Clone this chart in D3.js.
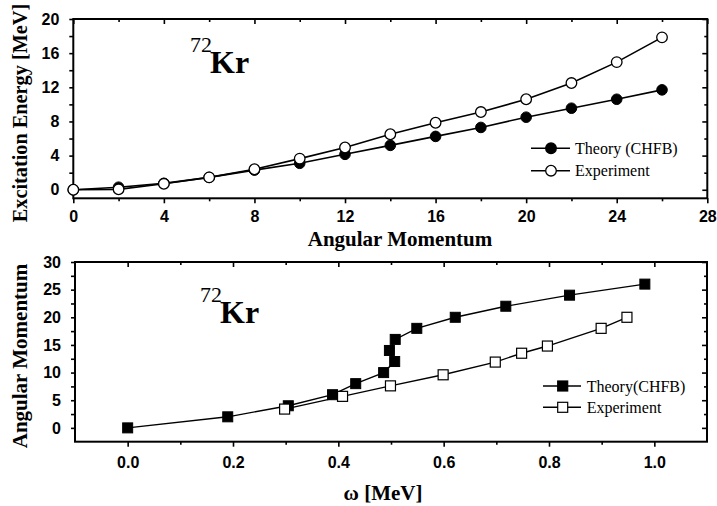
<!DOCTYPE html>
<html><head><meta charset="utf-8">
<script src="https://cdn.jsdelivr.net/npm/d3@7"></script>
<style>body{margin:0;background:#fff}svg{display:block}</style>
</head><body><svg id="c" width="717" height="506"></svg>
<script>
// ---- data: top panel (excitation energy vs angular momentum)
const spinJ     = [0, 2, 4, 6, 8, 10, 12, 14, 16, 18, 20, 22, 24, 26];
const theoryE   = [0, 0.3, 0.75, 1.45, 2.3, 3.1, 4.15, 5.2, 6.25, 7.3, 8.5, 9.55, 10.6, 11.7];
const exptE     = [0, 0.05, 0.7, 1.45, 2.4, 3.65, 4.95, 6.5, 7.85, 9.1, 10.6, 12.5, 14.95, 17.85];
// ---- data: bottom panel (angular momentum vs rotational frequency)
const theoryOmega = [0, 0.19, 0.305, 0.389, 0.433, 0.486, 0.507, 0.497, 0.508, 0.549, 0.622, 0.718, 0.839, 0.982];
const theoryI     = [0, 2, 4, 6, 8, 10, 12, 14, 16, 18, 20, 22, 24, 26];
const exptOmega   = [0.298, 0.408, 0.499, 0.599, 0.698, 0.748, 0.797, 0.899, 0.948];
const exptI       = [3.4, 5.7, 7.6, 9.6, 11.9, 13.5, 14.8, 18.0, 20.0];
// ---- ticks
const topXMajor = [0, 4, 8, 12, 16, 20, 24, 28];
const topXMinor = [2, 6, 10, 14, 18, 22, 26];
const topYMajor = [0, 4, 8, 12, 16, 20];
const topYMinor = [2, 6, 10, 14, 18];
const botXMajor = [0, 0.2, 0.4, 0.6, 0.8, 1.0];
const botXMinor = [0.1, 0.3, 0.5, 0.7, 0.9];
const botYMajor = [0, 5, 10, 15, 20, 25, 30];
const botYMinor = [2.5, 7.5, 12.5, 17.5, 22.5, 27.5];
const legendTop = ["Theory (CHFB)", "Experiment"];
const legendBot = ["Theory(CHFB)", "Experiment"];

const svg = d3.select("#c");
const SANS = "'Liberation Sans', Arial, sans-serif";
const SERIF = "'Liberation Serif', 'Times New Roman', serif";

function frame(x, y, xMaj, xMin, yMaj, yMin, fx, fy, xPad) {
  const [x0, x1] = x.range(), [y0, y1] = y.range();
  const g = svg.append("g");
  const style = a => a.call(s => s.select(".domain").remove())
      .attr("font-family", SANS).attr("font-size", 16)
      .call(s => s.selectAll("line").attr("stroke", "#000").attr("stroke-width", 1.6))
      .call(s => s.selectAll("text").style("font-family", SANS).style("font-weight", "bold").style("font-size", "16px").attr("fill", "#000"));
  // bottom (outward)
  g.append("g").attr("transform", `translate(0,${y0})`).call(d3.axisBottom(x).tickValues(xMaj).tickFormat(fx).tickSize(5).tickPadding(xPad)).call(style);
  g.append("g").attr("transform", `translate(0,${y0})`).call(d3.axisBottom(x).tickValues(xMin).tickFormat("").tickSize(3)).call(style);
  // top (inward)
  g.append("g").attr("transform", `translate(0,${y1})`).call(d3.axisBottom(x).tickValues(xMaj).tickFormat("").tickSize(5)).call(style);
  g.append("g").attr("transform", `translate(0,${y1})`).call(d3.axisBottom(x).tickValues(xMin).tickFormat("").tickSize(3)).call(style);
  // left (outward)
  g.append("g").attr("transform", `translate(${x0},0)`).call(d3.axisLeft(y).tickValues(yMaj).tickFormat(fy).tickSize(4).tickPadding(10)).call(style);
  g.append("g").attr("transform", `translate(${x0},0)`).call(d3.axisLeft(y).tickValues(yMin).tickFormat("").tickSize(4)).call(style);
  // right (inward)
  g.append("g").attr("transform", `translate(${x1},0)`).call(d3.axisLeft(y).tickValues(yMaj).tickFormat("").tickSize(5)).call(style);
  g.append("g").attr("transform", `translate(${x1},0)`).call(d3.axisLeft(y).tickValues(yMin).tickFormat("").tickSize(3)).call(style);
  g.append("rect").attr("x", x0).attr("y", y1).attr("width", x1 - x0).attr("height", y0 - y1)
    .attr("fill", "none").attr("stroke", "#000").attr("stroke-width", 2);
}

function nuclide(x, y) {
  svg.append("text").attr("x", x).attr("y", y - 21).attr("font-family", SERIF)
    .attr("font-size", 22).text("72");
  svg.append("text").attr("x", x + 20).attr("y", y).attr("font-family", SERIF)
    .attr("font-weight", "bold").attr("font-size", 32).text("Kr");
}

// ================= TOP PANEL =================
const xT = d3.scaleLinear().domain([0, 28]).range([73.3, 707.3]);
const yT = d3.scaleLinear().domain([-1, 20]).range([198.3, 19]);
frame(xT, yT, topXMajor, topXMinor, topYMajor, topYMinor, d3.format("d"), d3.format("d"), 7);

const lineT = d3.line().x(d => xT(d[0])).y(d => yT(d[1]));
const thT = spinJ.map((j, i) => [j, theoryE[i]]);
const exT = spinJ.map((j, i) => [j, exptE[i]]);
svg.append("path").attr("d", lineT(thT)).attr("fill", "none").attr("stroke", "#000").attr("stroke-width", 1.6);
svg.append("path").attr("d", lineT(exT)).attr("fill", "none").attr("stroke", "#000").attr("stroke-width", 1.6);
svg.append("g").selectAll("circle").data(thT).join("circle")
  .attr("cx", d => xT(d[0])).attr("cy", d => yT(d[1])).attr("r", 5.3)
  .attr("fill", "#000").attr("stroke", "#000").attr("stroke-width", 1);
svg.append("g").selectAll("circle").data(exT).join("circle")
  .attr("cx", d => xT(d[0])).attr("cy", d => yT(d[1])).attr("r", 5.3)
  .attr("fill", "#fff").attr("stroke", "#000").attr("stroke-width", 1.3);

nuclide(190, 73);

svg.append("text").attr("transform", "translate(27,113) rotate(-90)").attr("text-anchor", "middle")
  .attr("font-family", SERIF).attr("font-weight", "bold").attr("font-size", 20.3)
  .text("Excitation Energy [MeV]");
svg.append("text").attr("x", 400).attr("y", 246).attr("text-anchor", "middle")
  .attr("font-family", SERIF).attr("font-weight", "bold").attr("font-size", 21)
  .text("Angular Momentum");

// legend top
legendTop.forEach((t, i) => {
  const ly = 148.3 + i * 22.4;
  svg.append("line").attr("x1", 531).attr("x2", 570).attr("y1", ly).attr("y2", ly).attr("stroke", "#000").attr("stroke-width", 1.6);
  svg.append("circle").attr("cx", 551).attr("cy", ly).attr("r", 5.3)
    .attr("fill", i === 0 ? "#000" : "#fff").attr("stroke", "#000").attr("stroke-width", 1.3);
  svg.append("text").attr("x", 575).attr("y", ly + 5.5).attr("font-family", SERIF).attr("font-size", 16).text(t);
});

// ================= BOTTOM PANEL =================
const xB = d3.scaleLinear().domain([-0.1, 1.1]).range([75, 707]);
const yB = d3.scaleLinear().domain([-2.5, 30]).range([441.7, 262]);
frame(xB, yB, botXMajor, botXMinor, botYMajor, botYMinor, d3.format(".1f"), d3.format("d"), 10);

const lineB = d3.line().x(d => xB(d[0])).y(d => yB(d[1]));
const thB = theoryOmega.map((w, i) => [w, theoryI[i]]);
const exB = exptOmega.map((w, i) => [w, exptI[i]]);
svg.append("path").attr("d", lineB(thB)).attr("fill", "none").attr("stroke", "#000").attr("stroke-width", 1.4);
svg.append("path").attr("d", lineB(exB)).attr("fill", "none").attr("stroke", "#000").attr("stroke-width", 1.4);
const S = 10;
svg.append("g").selectAll("rect").data(thB).join("rect")
  .attr("x", d => xB(d[0]) - S / 2).attr("y", d => yB(d[1]) - S / 2).attr("width", S).attr("height", S)
  .attr("fill", "#000").attr("stroke", "#000").attr("stroke-width", 1);
svg.append("g").selectAll("rect").data(exB).join("rect")
  .attr("x", d => xB(d[0]) - S / 2).attr("y", d => yB(d[1]) - S / 2).attr("width", S).attr("height", S)
  .attr("fill", "#fff").attr("stroke", "#000").attr("stroke-width", 1.2);

nuclide(200, 323);

svg.append("text").attr("transform", "translate(27,356) rotate(-90)").attr("text-anchor", "middle")
  .attr("font-family", SERIF).attr("font-weight", "bold").attr("font-size", 21)
  .text("Angular Momentum");
svg.append("text").attr("x", 383).attr("y", 500).attr("text-anchor", "middle")
  .attr("font-family", SERIF).attr("font-weight", "bold").attr("font-size", 21)
  .text("ω [MeV]");

legendBot.forEach((t, i) => {
  const ly = 386 + i * 21.3;
  svg.append("line").attr("x1", 543).attr("x2", 581).attr("y1", ly).attr("y2", ly).attr("stroke", "#000").attr("stroke-width", 1.4);
  svg.append("rect").attr("x", 562.7 - S / 2).attr("y", ly - S / 2).attr("width", S).attr("height", S)
    .attr("fill", i === 0 ? "#000" : "#fff").attr("stroke", "#000").attr("stroke-width", 1.2);
  svg.append("text").attr("x", 586.7).attr("y", ly + 5.5).attr("font-family", SERIF).attr("font-size", 16).text(t);
});
</script></body></html>
